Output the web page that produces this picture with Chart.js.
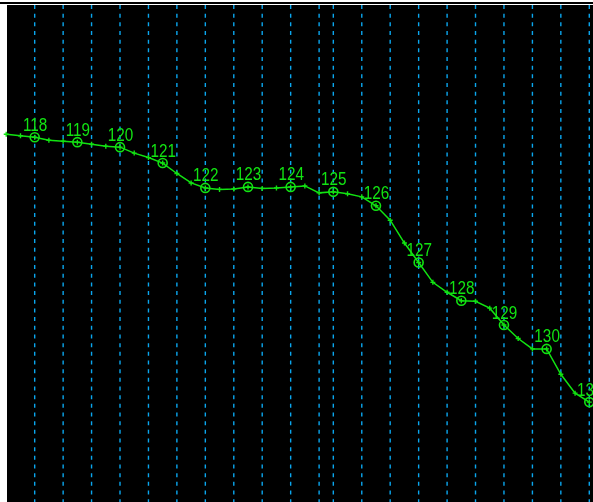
<!DOCTYPE html>
<html>
<head>
<meta charset="utf-8">
<script src="https://cdn.jsdelivr.net/npm/chart.js@4/dist/chart.umd.min.js"></script>
<style>
  html, body { margin: 0; padding: 0; background: #ffffff; }
  canvas { display: block; }
</style>
</head>
<body>
<canvas id="c" width="593" height="502"></canvas>
<script>
// Sample positions along the sequence axis (every third of a step)
const tracePositions = [
  117.333, 117.667, 118, 118.333, 118.667, 119, 119.333, 119.667, 120,
  120.333, 120.667, 121, 121.333, 121.667, 122, 122.333, 122.667, 123,
  123.333, 123.667, 124, 124.333, 124.667, 125, 125.333, 125.667, 126,
  126.333, 126.667, 127, 127.333, 127.667, 128, 128.333, 128.667, 129,
  129.333, 129.667, 130, 130.333, 130.667, 131
];
// Values of the trace
const traceValues = [
  74.0, 73.7, 73.4, 72.8, 72.6, 72.4, 72.0, 71.6, 71.4,
  70.2, 69.3, 68.2, 66.1, 64.2, 63.2, 62.9, 63.0, 63.4,
  63.1, 63.2, 63.4, 63.6, 62.2, 62.4, 62.0, 61.4, 59.6,
  56.7, 52.1, 48.2, 44.2, 42.2, 40.5, 40.4, 39.0, 35.6,
  32.9, 30.8, 30.8, 25.7, 21.9, 20.1
];
// Labelled points
const pointLabels = [118, 119, 120, 121, 122, 123, 124, 125, 126, 127, 128, 129, 130, 131];
const pointValues = [73.4, 72.4, 71.4, 68.2, 63.2, 63.4, 63.4, 62.4, 59.6, 48.2, 40.5, 35.6, 30.8, 20.1];
// Vertical grid line positions
const gridPositions = [
  118, 118.667, 119.333, 120, 120.667, 121.333, 122, 122.667, 123.333, 124, 124.667,
  125, 125.667, 126.333, 127, 127.667, 128.333, 129, 129.667, 130.333, 131
];

const GREEN = '#12e312';
const GRID = '#0aa6ee';

const tracePoints = tracePositions.map((x, i) => ({ x: x, y: traceValues[i] }));
const mainPoints = pointLabels.map((x, i) => ({ x: x, y: pointValues[i] }));

const framePlugin = {
  id: 'frame',
  beforeDraw(chart) {
    const ctx = chart.ctx;
    const a = chart.chartArea;
    ctx.save();
    ctx.fillStyle = '#ffffff';
    ctx.fillRect(0, 0, chart.width, chart.height);
    ctx.fillStyle = '#000000';
    ctx.fillRect(0, 2, chart.width, 2);
    ctx.fillRect(a.left, a.top, a.right - a.left, a.bottom - a.top);
    ctx.restore();
  },
  beforeDatasetsDraw(chart) {
    const ctx = chart.ctx;
    const a = chart.chartArea;
    const xs = chart.scales.x;
    ctx.save();
    ctx.beginPath();
    ctx.rect(a.left, a.top, a.right - a.left, a.bottom - a.top);
    ctx.clip();
    ctx.strokeStyle = GRID;
    ctx.lineWidth = 1.4;
    ctx.setLineDash([4, 4.67]);
    gridPositions.forEach(v => {
      const px = xs.getPixelForValue(v);
      ctx.beginPath();
      ctx.moveTo(px, a.top);
      ctx.lineTo(px, a.bottom);
      ctx.stroke();
    });
    ctx.restore();
  }
};

const labelPlugin = {
  id: 'pointLabelsPlugin',
  afterDatasetsDraw(chart) {
    const ctx = chart.ctx;
    const meta = chart.getDatasetMeta(1);
    ctx.save();
    ctx.fillStyle = GREEN;
    ctx.font = '18px "Liberation Sans", Arial, sans-serif';
    ctx.textAlign = 'center';
    ctx.textBaseline = 'alphabetic';
    meta.data.forEach((el, i) => {
      ctx.save();
      ctx.translate(el.x + 0.5, el.y - 6.5);
      ctx.scale(0.85, 1);
      ctx.fillText(String(pointLabels[i]), 0, 0);
      ctx.restore();
    });
    ctx.restore();
  }
};

new Chart(document.getElementById('c'), {
  type: 'line',
  data: {
    datasets: [
      {
        data: tracePoints,
        borderColor: GREEN,
        borderWidth: 1.5,
        tension: 0,
        pointStyle: 'cross',
        pointRadius: 2.5,
        pointBorderWidth: 1.4,
        pointBorderColor: GREEN,
        pointBackgroundColor: GREEN,
        clip: false
      },
      {
        data: mainPoints,
        showLine: false,
        pointStyle: 'circle',
        pointRadius: 4.5,
        pointBorderWidth: 1.6,
        pointBorderColor: GREEN,
        pointBackgroundColor: 'rgba(0,0,0,0)',
        clip: false
      }
    ]
  },
  options: {
    responsive: false,
    animation: false,
    events: [],
    layout: { autoPadding: false, padding: { left: 7, top: 5, right: 0, bottom: 0 } },
    plugins: { legend: { display: false }, tooltip: { enabled: false }, title: { display: false } },
    scales: {
      x: { type: 'linear', min: 117.351, max: 131.087, display: false },
      y: { type: 'linear', min: 0, max: 100, display: false }
    }
  },
  plugins: [framePlugin, labelPlugin]
});
</script>
</body>
</html>
